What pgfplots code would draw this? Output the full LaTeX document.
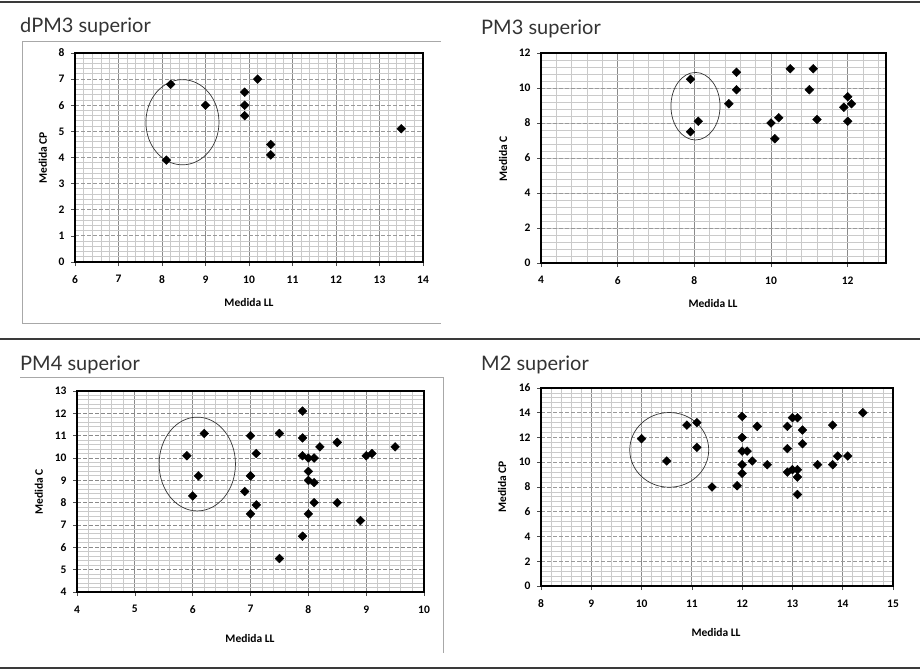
\documentclass[border=0pt]{standalone}
\usepackage{pgfplots}
\pgfplotsset{compat=1.18}
\usepackage{fontspec}
\setmainfont{Carlito}
\newfontfamily\titlefont{Lato}

\definecolor{majgrid}{HTML}{8A8A8A}
\definecolor{mingrid}{HTML}{CACACA}
\definecolor{dashgrid}{HTML}{999999}
\definecolor{rulegray}{HTML}{3A3A3A}
\definecolor{framegray}{HTML}{A8A8A8}
\definecolor{titlegray}{HTML}{333333}

\pgfplotsset{
  panel/.style={
    scale only axis,
    axis line style={black, line width=1.7pt},
    tick align=outside,
    major tick length=4pt,
    minor tick length=0pt,
    major tick style={color=black!70, line width=0.6pt},
    xtick pos=left, ytick pos=left,
    grid=both,
    major x grid style={majgrid, line width=0.8pt},
    minor grid style={mingrid, line width=0.9pt},
    major y grid style={dashgrid, line width=0.9pt, dash pattern=on 3.5pt off 2.5pt},
    /pgf/number format/assume math mode=true,
    ticklabel style={font=\bfseries\fontsize{11.5}{13}\selectfont},
    xticklabel style={yshift=-6pt},
    yticklabel style={xshift=-3pt},
  },
  pts/.style={only marks, mark=square*, mark size=3.1pt,
    mark options={rotate=45, fill=black, draw=black}},
}
\tikzset{ring/.style={black!80, line width=0.7pt}}

\newcommand{\paneltitle}[2]{\node[anchor=base west, inner sep=0pt, text=titlegray]
  at #1 {\titlefont\fontsize{20}{24}\selectfont #2};}
\newcommand{\axlabel}[3][0]{\node[rotate=#1, inner sep=0pt]
  at #2 {\bfseries\fontsize{11.5}{13}\selectfont #3};}

\begin{document}
\begin{tikzpicture}
\useasboundingbox (0,0) rectangle (920pt,-671pt);

% horizontal rules between the rows
\draw[rulegray, line width=1.2pt] (0,-2pt) -- (920pt,-2pt);
\draw[rulegray, line width=1.2pt] (0,-339pt) -- (920pt,-339pt);
\draw[rulegray, line width=1.2pt] (0,-668pt) -- (920pt,-668pt);

% chart frames
\draw[framegray, line width=0.8pt] (441pt,-41pt) -- (22pt,-41pt) -- (22pt,-323pt) -- (441pt,-323pt);
\draw[framegray, line width=0.8pt] (20pt,-377pt) -- (443pt,-377pt) -- (443pt,-653pt);

% titles
\paneltitle{(20pt,-33pt)}{dPM3 superior}
\paneltitle{(481pt,-35pt)}{PM3 superior}
\paneltitle{(20pt,-370pt)}{PM4 superior}
\paneltitle{(481pt,-370pt)}{M2 superior}

% ---- dPM3 superior ----
\begin{axis}[panel,
  at={(75pt,-262pt)}, anchor=south west,
  width=348pt, height=209pt,
  xmin=6, xmax=14, ymin=0, ymax=8,
  xtick={6,...,14}, ytick={0,...,8},
  minor x tick num=4, minor y tick num=4]
\addplot[pts] coordinates {
  (8.2,6.8) (9,6) (8.1,3.9) (9.9,6.5) (9.9,6.0) (9.9,5.6)
  (10.2,7.0) (10.5,4.5) (10.5,4.1) (13.5,5.1)};
\draw[ring] (axis cs:8.47,5.35) ellipse [x radius=0.84, y radius=1.63];
\end{axis}
\axlabel{(249pt,-303pt)}{Medida LL}
\axlabel[90]{(43pt,-158pt)}{Medida CP}

% ---- PM3 superior ----
\begin{axis}[panel,
  at={(541pt,-263pt)}, anchor=south west,
  width=345pt, height=210pt,
  xmin=4, xmax=13, ymin=0, ymax=12,
  xtick={4,6,...,12}, ytick={0,2,...,12},
  minor xtick={4,4.4,...,13}, minor ytick={0,0.4,...,12}]
\addplot[pts] coordinates {
  (7.9,10.5) (7.9,7.5) (8.1,8.1) (8.9,9.1) (9.1,10.9) (9.1,9.9)
  (10,8) (10.2,8.3) (10.1,7.1) (10.5,11.1) (11.1,11.1) (11,9.9)
  (11.2,8.2) (11.9,8.9) (12,9.5) (12.1,9.1) (12,8.1)};
\draw[ring] (axis cs:8.03,8.96) ellipse [x radius=0.64, y radius=1.93];
\end{axis}
\axlabel{(713pt,-304pt)}{Medida LL}
\axlabel[90]{(503pt,-159pt)}{Medida C}

% ---- PM4 superior ----
\begin{axis}[panel,
  at={(77pt,-592pt)}, anchor=south west,
  width=347pt, height=201pt,
  xmin=4, xmax=10, ymin=4, ymax=13,
  xtick={4,...,10}, ytick={4,...,13},
  minor x tick num=4, minor y tick num=4,
  major y grid style={majgrid, line width=0.8pt}]
\addplot[pts] coordinates {
  (5.9,10.1) (6.2,11.1) (6.1,9.2) (6,8.3)
  (7,11) (7.1,10.2) (7,9.2) (6.9,8.5) (7.1,7.9) (7,7.5)
  (7.5,11.1) (7.5,5.5)
  (7.9,12.1) (7.9,10.9) (7.9,10.1) (8,10) (8.1,10) (8,9.4) (8,9)
  (8.1,8.9) (8.1,8.0) (8,7.5) (7.9,6.5) (8.2,10.5)
  (8.5,10.7) (8.5,8.0) (8.9,7.2) (9,10.1) (9.1,10.2) (9.5,10.5)};
\draw[ring] (axis cs:6.08,9.73) ellipse [x radius=0.66, y radius=2.1];
\end{axis}
\axlabel{(250pt,-639pt)}{Medida LL}
\axlabel[90]{(39pt,-492pt)}{Medida C}

% ---- M2 superior ----
\begin{axis}[panel,
  at={(541pt,-586pt)}, anchor=south west,
  width=352pt, height=198pt,
  xmin=8, xmax=15, ymin=0, ymax=16,
  xtick={8,...,15}, ytick={0,2,...,16},
  minor x tick num=4, minor y tick num=4]
\addplot[pts] coordinates {
  (10,11.9) (10.5,10.1) (10.9,13) (11.1,13.2) (11.1,11.2)
  (11.4,8) (11.9,8.1)
  (12,13.7) (12,12) (12,10.9) (12.1,10.9) (12,9.8) (12,9.1)
  (12.2,10.1) (12.3,12.9) (12.5,9.8)
  (12.9,12.9) (12.9,11.1) (12.9,9.2) (13,13.6) (13.1,13.6)
  (13,9.4) (13.1,9.4) (13.1,8.8) (13.1,7.4) (13.2,12.6) (13.2,11.5)
  (13.5,9.8) (13.8,13) (13.8,9.8) (13.9,10.5) (14.1,10.5) (14.4,14)};
\draw[ring] (axis cs:10.55,11.0) ellipse [x radius=0.785, y radius=3.02];
\end{axis}
\axlabel{(716pt,-633pt)}{Medida LL}
\axlabel[90]{(502pt,-487pt)}{Medida CP}

\end{tikzpicture}
\end{document}
